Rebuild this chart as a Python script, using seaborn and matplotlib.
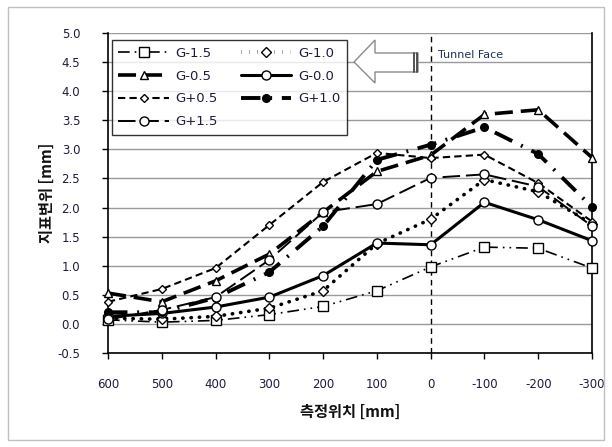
import matplotlib
matplotlib.use("Agg")
import matplotlib.pyplot as plt
from matplotlib.patches import Polygon, Rectangle
from matplotlib.lines import Line2D
import seaborn as sns

# Measurement positions relative to the tunnel face [mm]
positions = [600, 500, 400, 300, 200, 100, 0, -100, -200, -300]
tick_labels = ["600", "500", "400", "300", "200", "100", "0", "-100", "-200", "-300"]

# Surface displacement per gauge line [mm]
g_m15 = [0.07, 0.03, 0.06, 0.16, 0.30, 0.57, 0.98, 1.32, 1.30, 0.96]
g_m10 = [0.10, 0.08, 0.13, 0.27, 0.57, 1.38, 1.80, 2.48, 2.27, 1.72]
g_m05 = [0.53, 0.38, 0.74, 1.20, 1.92, 2.62, 2.90, 3.60, 3.68, 2.86]
g_m00 = [0.13, 0.18, 0.29, 0.46, 0.83, 1.39, 1.36, 2.09, 1.79, 1.43]
g_p05 = [0.38, 0.60, 0.96, 1.70, 2.44, 2.94, 2.85, 2.91, 2.42, 1.76]
g_p10 = [0.20, 0.20, 0.45, 0.89, 1.68, 2.82, 3.08, 3.38, 2.92, 2.01]
g_p15 = [0.08, 0.24, 0.46, 1.10, 1.92, 2.06, 2.51, 2.57, 2.36, 1.68]

series_names = ["G-1.5", "G-1.0", "G-0.5", "G-0.0", "G+0.5", "G+1.0", "G+1.5"]
series_values = [g_m15, g_m10, g_m05, g_m00, g_p05, g_p10, g_p15]

# line style, width, marker, marker size, marker fill
styles = {
    "G-1.5": dict(ls=(0, (7, 3, 1, 3, 1, 3)), lw=1.2, marker="s", ms=6.5, mfc="white"),
    "G-1.0": dict(ls=(0, (0.1, 2.2)), lw=2.6, marker="D", ms=5, mfc="white"),
    "G-0.5": dict(ls=(0, (5, 2.2)), lw=2.6, marker="^", ms=6, mfc="white"),
    "G-0.0": dict(ls="-", lw=2.2, marker="o", ms=6.5, mfc="white"),
    "G+0.5": dict(ls=(0, (3.5, 2)), lw=1.5, marker="D", ms=4, mfc="white"),
    "G+1.0": dict(ls=(0, (5, 2.5, 0.5, 2.5)), lw=2.8, marker="o", ms=5.5, mfc="black"),
    "G+1.5": dict(ls=(0, (9, 3)), lw=1.4, marker="o", ms=6.5, mfc="white"),
}

sns.set_theme(style="white")
plt.rcParams["font.family"] = ["DejaVu Sans", "Noto Sans CJK KR"]

W, H = 612, 447
fig = plt.figure(figsize=(W / 100, H / 100), dpi=100)


def fx(px):
    return px / W


def fy(py):
    return 1 - py / H


ax = fig.add_axes([fx(108), fy(353), fx(592) - fx(108), fy(33) - fy(353)])

handles = {}
for name, vals in zip(series_names, series_values):
    st = styles[name]
    sns.lineplot(x=positions, y=vals, ax=ax, color="black", sort=False,
                 marker=st["marker"], markersize=st["ms"],
                 markerfacecolor=st["mfc"], markeredgecolor="black",
                 markeredgewidth=1.0, linewidth=st["lw"], legend=False,
                 zorder=3)
    line = ax.lines[-1]
    line.set_linestyle(st["ls"])
    line.set_dash_capstyle("round" if name == "G-1.0" else "butt")
    line.set_clip_on(False)
    handles[name] = Line2D([], [], color="black", linestyle=st["ls"],
                           linewidth=st["lw"], marker=st["marker"],
                           markersize=st["ms"], markerfacecolor=st["mfc"],
                           markeredgecolor="black", markeredgewidth=1.0,
                           label=name)

# Tunnel face reference line
ax.axvline(0, color="black", linestyle=(0, (4, 3)), linewidth=1.0, zorder=2)

ax.set_xlim(600, -300)
ax.set_ylim(-0.5, 5.0)
ax.set_xticks(positions)
ax.set_xticklabels(tick_labels)
ax.set_yticks([-0.5 + 0.5 * i for i in range(12)])
ax.set_yticklabels([f"{-0.5 + 0.5 * i:.1f}" for i in range(12)])

ax.yaxis.grid(True, color="#9a9a9a", linewidth=1.0)
ax.xaxis.grid(False)
ax.set_axisbelow(True)

for side in ["left", "bottom", "right"]:
    ax.spines[side].set_visible(True)
    ax.spines[side].set_color("black")
    ax.spines[side].set_linewidth(1.2)
ax.spines["top"].set_visible(False)

label_color = "#1c1c3c"
ax.tick_params(axis="x", direction="out", length=4, width=1, color="black",
               pad=14, labelsize=8.5, labelcolor=label_color, bottom=True)
ax.tick_params(axis="y", direction="out", length=4, width=1, color="black",
               pad=16, labelsize=8.5, labelcolor=label_color, left=True)

ax.set_xlabel("측정위치 [mm]", fontsize=11, fontweight="bold",
              family=["Noto Sans CJK KR", "DejaVu Sans"], labelpad=9,
              color="#111111")
ax.set_ylabel("지표변위 [mm]", fontsize=11, fontweight="bold",
              family=["Noto Sans CJK KR", "DejaVu Sans"], labelpad=2,
              color="#111111")

# Legend reads row by row: two entries per row
legend_order = ["G-1.5", "G-0.5", "G+0.5", "G+1.5", "G-1.0", "G-0.0", "G+1.0"]
leg = ax.legend(handles=[handles[n] for n in legend_order], ncol=2,
                loc="upper left", bbox_to_anchor=(0.008, 0.978), frameon=True,
                fontsize=9.5, handlelength=3.8, numpoints=1,
                columnspacing=1.8, handletextpad=0.5, labelspacing=0.75,
                borderpad=0.5, borderaxespad=0.0, fancybox=False,
                labelcolor=label_color)
leg.get_frame().set_edgecolor("black")
leg.get_frame().set_linewidth(1.0)
leg.set_zorder(5)

# Direction-of-advance arrow next to the tunnel face label
arrow_px = [(354, 62), (375, 40), (375, 53), (418, 53), (418, 72),
            (375, 72), (375, 83)]
fig.patches.append(Polygon([(fx(a), fy(b)) for a, b in arrow_px],
                           closed=True, facecolor="white", edgecolor="#8a8a8a",
                           linewidth=1.0, transform=fig.transFigure, zorder=6))
for xp in (413.5, 416.5):
    fig.lines.append(Line2D([fx(xp), fx(xp)], [fy(53), fy(72)],
                            color="#444444", linewidth=1.3,
                            transform=fig.transFigure, zorder=7))

fig.text(fx(438), fy(55), "Tunnel Face", fontsize=8, color="#1f2f5a",
         ha="left", va="center")

# Outer chart border
fig.patches.append(Rectangle((fx(8), fy(440)), fx(604) - fx(8),
                             fy(7) - fy(440), fill=False,
                             edgecolor="#c0c0c0", linewidth=1.0,
                             transform=fig.transFigure, zorder=0))

fig.savefig("out.png", dpi=100, facecolor="white")
